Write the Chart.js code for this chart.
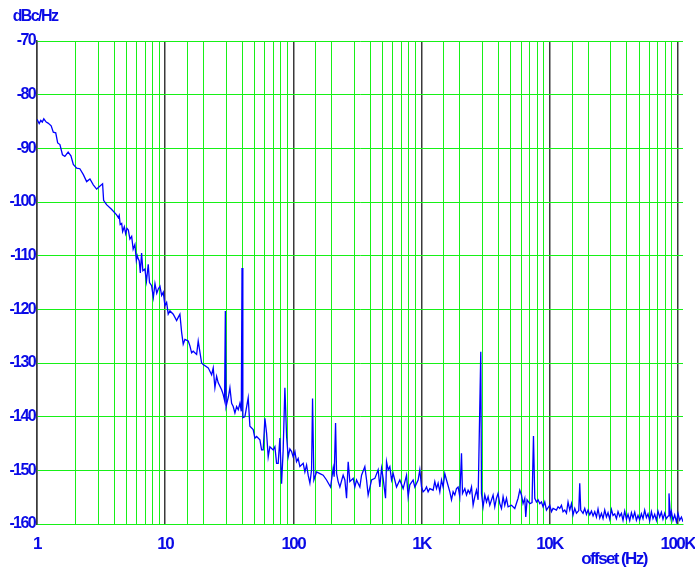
<!DOCTYPE html>
<html>
<head>
<meta charset="utf-8">
<title>Phase noise</title>
<script src="https://cdn.jsdelivr.net/npm/chart.js@4.4.1/dist/chart.umd.min.js"></script>
<style>
  html, body { margin: 0; padding: 0; background: #fff; }
  #wrap { width: 695px; height: 574px; }
</style>
</head>
<body>
<div id="wrap"><canvas id="pnChart" width="695" height="574"></canvas></div>
<script>
// ── Data (offset in Hz, level in dBc/Hz) ──
const freqHz = [
    1.0, 1.04, 1.07, 1.10, 1.13, 1.18, 1.22, 1.29, 1.34, 1.40,
    1.45, 1.51, 1.58, 1.65, 1.75, 1.84, 1.92, 2.04, 2.16, 2.30,
    2.44, 2.59, 2.75, 2.92, 3.04, 3.25, 3.31, 3.49, 3.83, 4.18,
    4.31, 4.38, 4.46, 4.58, 4.66, 4.80, 4.92, 5.04, 5.16, 5.31,
    5.48, 5.63, 5.81, 5.96, 6.06, 6.17, 6.28, 6.40, 6.55, 6.70,
    6.95, 7.15, 7.38, 7.55, 7.84, 8.09, 8.33, 8.60, 8.84, 9.11,
    9.39, 9.67, 9.96, 10.27, 10.57, 10.9, 11.57, 12.29, 12.65, 13.04,
    13.45, 13.84, 14.27, 15.14, 15.61, 16.09, 16.56, 17.61, 18.12, 19.26,
    19.83, 21.69, 23.05, 23.73, 24.46, 25.22, 25.96, 27.59, 28.40, 29.1,
    29.5, 29.9, 31.22, 32.03, 33.02, 33.98, 35.04, 36.13, 37.19, 38.33,
    39.3, 39.8, 40.4, 41.93, 44.48, 45.86, 48.66, 50.17, 51.73, 54.89,
    56.58, 58.25, 60.05, 61.91, 63.72, 65.69, 69.69, 71.86, 74.08, 76.24,
    78.6, 81.03, 83.4, 86.0, 88.7, 91.25, 94.07, 97.0, 99.8, 103,
    106, 109.2, 112.6, 119.5, 123.2, 127.0, 130.7, 134.8, 138.9, 141.4,
    144.8, 152, 161.3, 171.1, 181.8, 195.4, 204.8, 208.5, 213.8, 217.7,
    224, 231, 245, 252.7, 260.5, 268.2, 276.4, 293.3, 302.4, 311.7,
    330.8, 341, 361.8, 373.2, 384, 408.1, 433.1, 459.5, 473.7, 488.5,
    502.7, 524.8, 534.3, 550, 567, 584.7, 601.6, 639.3, 678.4, 720,
    765.3, 787.7, 812, 861.6, 888.2, 942.6, 971.6, 1002, 1031, 1063,
    1096, 1128, 1163, 1234, 1272, 1311, 1350, 1392, 1435, 1477,
    1522, 1570, 1666, 1717, 1768, 1822, 1878, 1933, 1993, 2055,
    2092, 2181, 2248, 2314, 2385, 2460, 2532, 2610, 2690, 2769,
    2906, 2943, 3029, 3123, 3220, 3314, 3416, 3625, 3737, 3853,
    3964, 4088, 4215, 4339, 4472, 4611, 4746, 5045, 5353, 5680,
    5855, 6038, 6211, 6405, 6520, 6675, 7009, 7300, 7490, 7668,
    7906, 8135, 8386, 8648, 8897, 9176, 9459, 10036, 10347, 10650,
    11320, 11650, 12010, 12380, 12740, 13140, 13550, 13940, 14380, 14820,
    15250, 15730, 16220, 16900, 17200, 17510, 18250, 18820, 19400, 19970,
    20590, 21230, 21850, 22530, 23220, 23890, 24640, 25400, 26140, 26950,
    27790, 28600, 29490, 30400, 31290, 32260, 33250, 34220, 35290, 36370,
    37440, 38600, 39800, 40960, 42230, 43530, 44800, 46190, 47620, 49010,
    50520, 52090, 53610, 55270, 56980, 58640, 60460, 62330, 64150, 66140,
    68180, 70170, 72350, 74580, 76760, 79140, 81580, 84500, 85530, 87700,
    89290, 91910, 94760, 97680, 100500, 103600, 106900, 110000
];
const levelDbc = [
    -84.6, -85.4, -84.8, -85.1, -84.5, -85.1, -85.3, -85.8, -87.0, -87.1,
    -89.0, -89.3, -91.2, -91.5, -90.7, -91.4, -93.0, -93.7, -93.8, -94.9,
    -96.2, -95.7, -96.8, -97.6, -97.2, -96.6, -99.7, -100.5, -101.4, -102.4,
    -102.9, -102.5, -104.2, -104.0, -105.5, -104.6, -105.9, -104.9, -105.2, -106.9,
    -106.4, -108.8, -107.9, -110.9, -110.0, -110.6, -111.0, -113.2, -109.5, -112.8,
    -112.5, -114.8, -111.6, -115.0, -115.6, -117.8, -115.2, -117.0, -116.2, -115.7,
    -117.4, -116.8, -119.3, -118.7, -120.9, -120.3, -120.9, -122.1, -121.5, -120.9,
    -124.3, -126.5, -125.6, -125.9, -126.8, -128.1, -127.8, -128.4, -125.9, -130.0,
    -130.3, -130.9, -132.2, -130.9, -134.6, -132.5, -133.7, -135.0, -135.9, -137.0,
    -120.3, -138.1, -136.2, -134.6, -137.5, -138.1, -139.3, -138.1, -138.7, -137.5,
    -139.0, -112.3, -140.2, -140.0, -136.5, -141.8, -142.4, -144.0, -143.7, -144.3,
    -146.2, -146.2, -140.3, -143.1, -147.5, -145.6, -146.2, -145.6, -148.7, -148.7,
    -144.0, -152.5, -146.2, -134.6, -143.7, -147.5, -146.0, -146.5, -147.5, -146.5,
    -148.4, -147.8, -149.3, -148.7, -150.3, -149.0, -150.9, -152.4, -149.9, -136.6,
    -151.8, -150.3, -150.6, -150.9, -151.8, -153.1, -149.6, -151.2, -141.2, -150.6,
    -152.1, -153.1, -150.9, -151.8, -155.2, -148.4, -152.1, -151.5, -153.1, -151.8,
    -153.1, -150.9, -149.3, -151.8, -154.6, -151.8, -151.5, -149.9, -153.1, -149.6,
    -151.5, -155.2, -148.4, -149.9, -149.3, -151.8, -150.6, -153.1, -151.8, -153.4,
    -150.9, -154.9, -152.7, -151.8, -153.1, -151.8, -149.9, -153.1, -154.0, -153.7,
    -153.1, -154.0, -153.4, -153.7, -152.1, -153.4, -152.4, -154.0, -151.8, -153.1,
    -150.6, -151.8, -154.0, -155.5, -154.0, -154.6, -153.4, -153.1, -154.9, -146.8,
    -154.3, -153.4, -154.6, -153.7, -154.3, -153.1, -156.5, -154.9, -153.7, -155.5,
    -127.9, -154.3, -156.8, -154.6, -155.9, -154.9, -156.5, -154.6, -156.8, -155.2,
    -154.3, -156.2, -157.1, -154.9, -156.5, -155.2, -156.8, -156.5, -157.1, -155.2,
    -153.7, -154.6, -156.2, -155.2, -158.7, -155.5, -156.2, -156.0, -143.6, -155.2,
    -155.9, -155.5, -156.2, -155.9, -156.8, -155.9, -157.4, -156.5, -157.7, -157.1,
    -157.4, -156.8, -157.1, -156.5, -157.7, -157.4, -158.0, -155.9, -157.4, -156.2,
    -158.3, -157.1, -158.0, -157.5, -152.4, -157.4, -158.0, -157.1, -158.2, -157.4,
    -158.3, -157.6, -158.5, -157.7, -158.7, -157.2, -158.9, -158.0, -159.0, -157.4,
    -158.7, -157.9, -159.1, -157.3, -158.4, -158.1, -159.0, -157.7, -158.6, -158.0,
    -159.3, -157.6, -159.1, -158.2, -159.4, -157.9, -158.9, -157.8, -159.3, -158.4,
    -159.2, -158.1, -159.0, -157.4, -158.8, -158.1, -159.4, -157.7, -159.0, -158.2,
    -159.3, -157.6, -158.7, -157.8, -159.1, -158.0, -159.0, -158.5, -154.3, -158.7,
    -157.7, -159.3, -158.3, -159.6, -158.0, -159.3, -158.7, -159.6
];

// ── Axis ticks ──
const yTickValues = [-70, -80, -90, -100, -110, -120, -130, -140, -150, -160];
const xTickValues = [1, 10, 100, 1000, 10000, 100000];
const xTickLabels = ['1', '10', '100', '1K', '10K', '100K'];

// ── Colours / fonts ──
const BLUE = '#0a0ae6';
const TRACE = '#0000ff';
const GREEN = '#17f017';
const DARK = '#3a3a3a';
const FONT_FAMILY = 'Arial, "Liberation Sans", sans-serif';

const isDecade = v => Math.abs(Math.log10(v) - Math.round(Math.log10(v))) < 1e-9;

// tight lettering like the original plot + the two unit captions
const captions = {
    id: 'captions',
    beforeDraw(chart, args, opts) {
        chart.ctx.letterSpacing = opts.letterSpacing;
    },
    afterDraw(chart, args, opts) {
        const { ctx } = chart;
        ctx.save();
        ctx.fillStyle = opts.color;
        ctx.textAlign = 'center';
        ctx.textBaseline = 'middle';
        opts.items.forEach(it => {
            ctx.font = it.font;
            ctx.fillText(it.text, it.x, it.y);
        });
        ctx.restore();
    }
};

new Chart(document.getElementById('pnChart'), {
    type: 'line',
    data: {
        datasets: [{
            data: freqHz.map((f, i) => ({ x: f, y: levelDbc[i] })),
            borderColor: TRACE,
            borderWidth: 1.3,
            pointRadius: 0,
            tension: 0,
            fill: false
        }]
    },
    plugins: [captions],
    options: {
        responsive: false,
        animation: false,
        layout: { padding: { left: 0, right: 12, top: 41, bottom: 0 } },
        plugins: {
            legend: { display: false },
            tooltip: { enabled: false },
            captions: {
                letterSpacing: '-1.6px',
                color: BLUE,
                items: [
                    { text: 'dBc/Hz', x: 35, y: 17, font: `bold 16px ${FONT_FAMILY}` },
                    { text: 'offset (Hz)', x: 614, y: 559, font: `bold 17px ${FONT_FAMILY}` }
                ]
            }
        },
        scales: {
            x: {
                type: 'logarithmic',
                min: 1,
                max: 110000,
                afterFit: s => { s.height = 50; },
                border: { color: GREEN, width: 1 },
                grid: {
                    drawTicks: false,
                    color: ctx => {
                        const v = ctx.tick && ctx.tick.value;
                        if (!v || v > 100000) return 'rgba(0,0,0,0)';
                        return isDecade(v) ? DARK : GREEN;
                    },
                    lineWidth: ctx => (ctx.tick && isDecade(ctx.tick.value) ? 1.5 : 1)
                },
                ticks: {
                    autoSkip: false,
                    maxRotation: 0,
                    padding: 10,
                    color: BLUE,
                    font: { family: FONT_FAMILY, size: 17, weight: 'bold' },
                    callback: v => {
                        const i = xTickValues.indexOf(v);
                        return i >= 0 ? xTickLabels[i] : '';
                    }
                }
            },
            y: {
                min: -160,
                max: -70,
                afterFit: s => { s.width = 37; },
                afterBuildTicks: s => { s.ticks = yTickValues.map(v => ({ value: v })); },
                border: { color: DARK, width: 1.5 },
                grid: { drawTicks: false, color: GREEN, lineWidth: 1 },
                ticks: {
                    padding: 2,
                    color: BLUE,
                    font: { family: FONT_FAMILY, size: 16, weight: 'bold' },
                    callback: v => String(v)
                }
            }
        }
    }
});
</script>
</body>
</html>
